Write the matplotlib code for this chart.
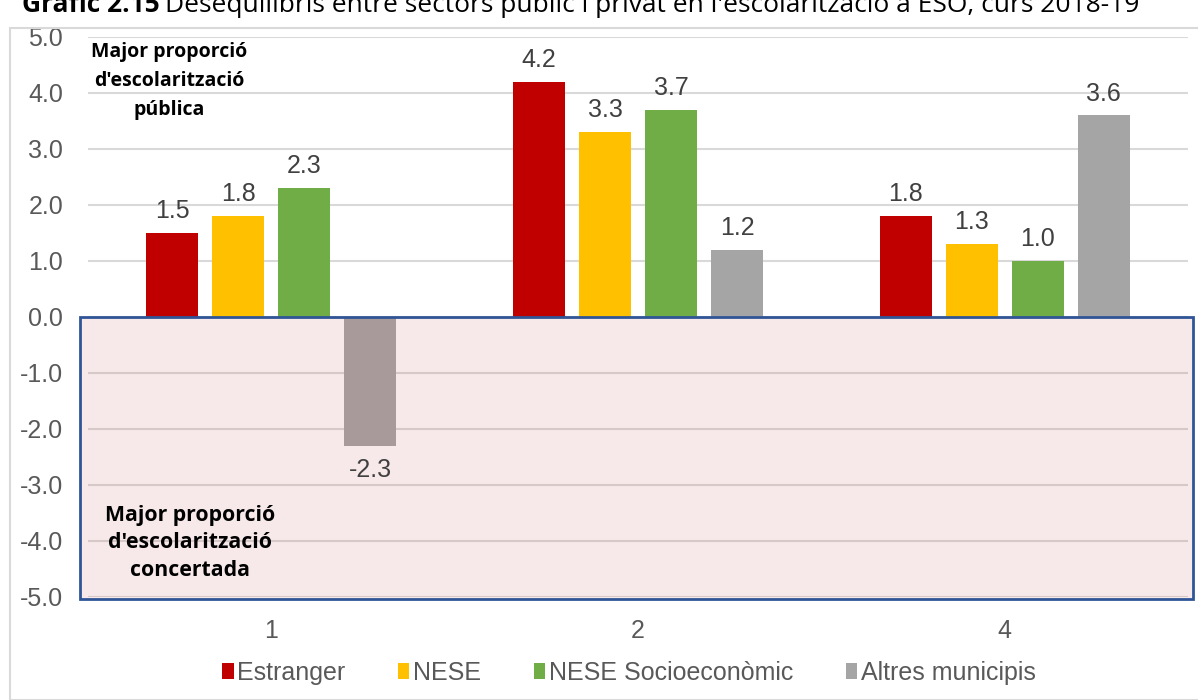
import matplotlib.pyplot as plt
from matplotlib.patches import Rectangle
import numpy as np

categories = ['1', '2', '4']
series = ['Estranger', 'NESE', 'NESE Socioeconòmic', 'Altres municipis']
colors = ['#C00000', '#FFC000', '#70AD47', '#A5A5A5']
values = {
    'Estranger': [1.5, 4.2, 1.8],
    'NESE': [1.8, 3.3, 1.3],
    'NESE Socioeconòmic': [2.3, 3.7, 1.0],
    'Altres municipis': [-2.3, 1.2, 3.6],
}
yticks = [5.0, 4.0, 3.0, 2.0, 1.0, 0.0, -1.0, -2.0, -3.0, -4.0, -5.0]

plt.rcParams['font.family'] = ['Liberation Sans', 'DejaVu Sans']

fig = plt.figure(figsize=(11.98, 7.0), dpi=100)

# outer chart frame
fig.add_artist(Rectangle((10 / 1198, 0), 1.1, (700 - 28) / 700, transform=fig.transFigure,
                         facecolor='none', edgecolor='#D9D9D9', lw=1.5))

# title (cut off at top, as in the original)
fig.text(22 / 1198, 1 - 12 / 700, 'Gràfic 2.15', fontfamily='Open Sans', fontweight='bold',
         fontsize=19, va='baseline', ha='left', color='black')
fig.text(165 / 1198, 1 - 12 / 700,
         "Desequilibris entre sectors públic i privat en l'escolarització a ESO, curs 2018-19",
         fontfamily='Open Sans', fontsize=19, va='baseline', ha='left', color='black')

ax = fig.add_axes([88 / 1198, 103 / 700, 1100 / 1198, 560 / 700])

x = np.arange(len(categories))
width = 0.142
step = 0.18
for i, s in enumerate(series):
    pos = x + (i - 1.5) * step
    bars = ax.bar(pos, values[s], width, color=colors[i], label=s, zorder=2)
    for b, v in zip(bars, values[s]):
        if v >= 0:
            ax.annotate(f'{v:.1f}', (b.get_x() + b.get_width() / 2, v), xytext=(0, 7),
                        textcoords='offset points', ha='center', va='bottom',
                        fontsize=18, color='#404040')
        else:
            ax.annotate(f'{v:.1f}', (b.get_x() + b.get_width() / 2, v), xytext=(0, -9),
                        textcoords='offset points', ha='center', va='top',
                        fontsize=18, color='#404040', zorder=5)

# shaded area for negative values
ax.add_patch(Rectangle((-0.522, -5.04), 3.036, 5.04, facecolor=(0.753, 0.314, 0.302, 0.12),
                       edgecolor='#2F5597', lw=2, zorder=3, clip_on=False))

ax.set_xlim(-0.5, 2.5)
ax.set_ylim(-5, 5)
ax.set_yticks(yticks)
ax.set_yticklabels([f'{t:.1f}' for t in yticks])
ax.set_xticks(x)
ax.set_xticklabels(categories)
ax.tick_params(axis='both', length=0, labelsize=18, labelcolor='#595959')
ax.tick_params(axis='y', pad=18)
ax.tick_params(axis='x', pad=16)
ax.grid(axis='y', color='#D9D9D9', lw=1.5, zorder=0)
for sp in ax.spines.values():
    sp.set_visible(False)

ax.text(0.074, 0.922, "Major proporció\nd'escolarització\npública", transform=ax.transAxes,
        ha='center', va='center', fontfamily='Open Sans', fontweight='bold', fontsize=14,
        linespacing=1.6, color='black')
ax.text(0.093, 0.097, "Major proporció\nd'escolarització\nconcertada", transform=ax.transAxes,
        ha='center', va='center', fontfamily='Open Sans', fontweight='bold', fontsize=15.3,
        linespacing=1.4, color='black', zorder=6)

fig.legend(loc='center', bbox_to_anchor=(0.525, 1 - 673 / 700), ncol=4, frameon=False,
           fontsize=18, handlelength=0.45, handleheight=0.6, handletextpad=0.15,
           columnspacing=2.1, labelcolor='#595959')

fig.savefig('out.png', dpi=100)
